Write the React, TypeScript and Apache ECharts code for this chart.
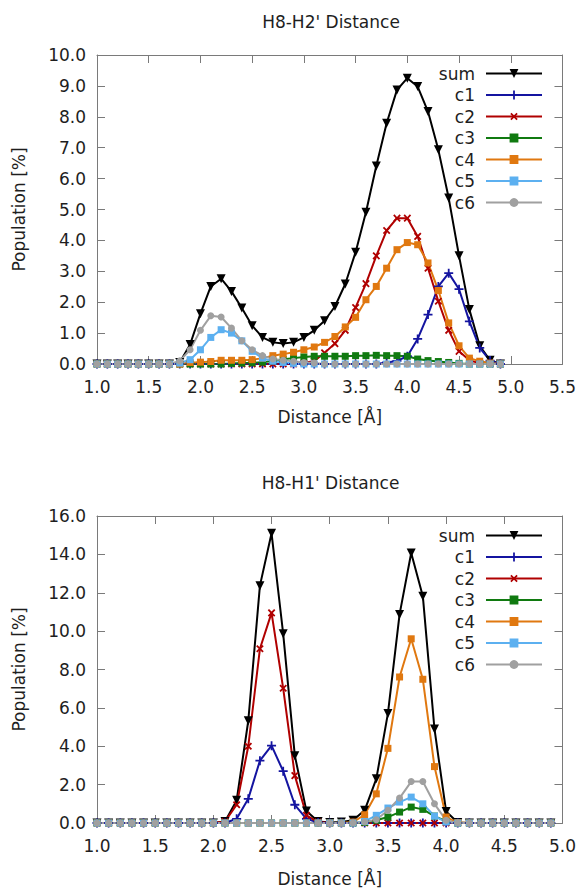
import React, { useEffect, useRef } from "react";
import * as echarts from "echarts";

const distances = [1.0, 1.1, 1.2, 1.3, 1.4, 1.5, 1.6, 1.7, 1.8, 1.9, 2.0, 2.1, 2.2, 2.3, 2.4, 2.5, 2.6, 2.7, 2.8, 2.9, 3.0, 3.1, 3.2, 3.3, 3.4, 3.5, 3.6, 3.7, 3.8, 3.9, 4.0, 4.1, 4.2, 4.3, 4.4, 4.5, 4.6, 4.7, 4.8, 4.9];

const seriesNames = ["sum", "c1", "c2", "c3", "c4", "c5", "c6"];

// H8-H2' distance
const h2Sum = [0, 0, 0, 0, 0, 0, 0, 0, 0.05, 0.63, 1.63, 2.51, 2.76, 2.35, 1.81, 1.24, 0.86, 0.70, 0.66, 0.70, 0.86, 1.09, 1.40, 1.86, 2.59, 3.62, 4.91, 6.41, 7.79, 8.87, 9.25, 8.98, 8.17, 6.93, 5.37, 3.50, 1.76, 0.59, 0.12, 0];
const h2C1 = [0, 0, 0, 0, 0, 0, 0, 0, 0, 0, 0, 0, 0, 0, 0, 0, 0, 0, 0, 0, 0, 0, 0, 0, 0, 0, 0, 0, 0.05, 0.10, 0.25, 0.81, 1.60, 2.51, 2.94, 2.42, 1.38, 0.52, 0.11, 0];
const h2C2 = [0, 0, 0, 0, 0, 0, 0, 0, 0, 0, 0, 0, 0, 0, 0, 0, 0, 0, 0, 0, 0.03, 0.10, 0.36, 0.66, 1.09, 1.83, 2.60, 3.50, 4.32, 4.72, 4.72, 4.13, 3.10, 2.03, 1.09, 0.41, 0.12, 0.02, 0, 0];
const h2C3 = [0, 0, 0, 0, 0, 0, 0, 0, 0, 0, 0, 0, 0, 0.02, 0.03, 0.04, 0.06, 0.10, 0.15, 0.19, 0.23, 0.25, 0.25, 0.25, 0.25, 0.27, 0.27, 0.28, 0.27, 0.27, 0.25, 0.16, 0.11, 0.08, 0.05, 0.02, 0, 0, 0, 0];
const h2C4 = [0, 0, 0, 0, 0, 0, 0, 0, 0, 0.05, 0.06, 0.08, 0.12, 0.12, 0.12, 0.14, 0.19, 0.27, 0.32, 0.38, 0.46, 0.55, 0.70, 0.89, 1.20, 1.51, 2.08, 2.51, 3.10, 3.70, 3.93, 3.86, 3.27, 2.38, 1.33, 0.59, 0.19, 0.09, 0.03, 0];
const h2C5 = [0, 0, 0, 0, 0, 0, 0, 0, 0.03, 0.14, 0.46, 0.86, 1.11, 1.00, 0.75, 0.41, 0.19, 0.09, 0.05, 0.02, 0, 0, 0, 0, 0, 0, 0, 0, 0, 0, 0, 0, 0, 0, 0, 0, 0, 0, 0, 0];
const h2C6 = [0, 0, 0, 0, 0, 0, 0, 0, 0.10, 0.46, 1.09, 1.56, 1.52, 1.16, 0.75, 0.46, 0.27, 0.16, 0.12, 0.09, 0.05, 0.03, 0, 0, 0, 0, 0, 0, 0, 0, 0, 0, 0, 0, 0, 0, 0, 0, 0, 0];

// H8-H1' distance
const h1Sum = [0, 0, 0, 0, 0, 0, 0, 0, 0, 0, 0, 0.08, 1.18, 5.33, 12.37, 15.10, 9.86, 3.51, 0.62, 0.08, 0.02, 0.05, 0.14, 0.66, 2.30, 5.71, 10.87, 14.07, 11.82, 4.90, 0.60, 0.03, 0, 0, 0, 0, 0, 0, 0, 0];
const h1C1 = [0, 0, 0, 0, 0, 0, 0, 0, 0, 0, 0, 0, 0.22, 1.26, 3.25, 4.03, 2.70, 0.95, 0.22, 0.03, 0, 0, 0, 0, 0, 0, 0, 0, 0, 0, 0, 0, 0, 0, 0, 0, 0, 0, 0, 0];
const h1C2 = [0, 0, 0, 0, 0, 0, 0, 0, 0, 0, 0, 0.08, 0.95, 4.00, 9.08, 10.95, 7.02, 2.47, 0.40, 0.05, 0, 0, 0, 0, 0, 0, 0, 0, 0, 0, 0, 0, 0, 0, 0, 0, 0, 0, 0, 0];
const h1C3 = [0, 0, 0, 0, 0, 0, 0, 0, 0, 0, 0, 0, 0, 0, 0, 0, 0, 0, 0, 0, 0, 0, 0, 0.03, 0.14, 0.31, 0.57, 0.83, 0.71, 0.36, 0.09, 0, 0, 0, 0, 0, 0, 0, 0, 0];
const h1C4 = [0, 0, 0, 0, 0, 0, 0, 0, 0, 0, 0, 0, 0, 0, 0, 0, 0, 0, 0, 0, 0, 0, 0.05, 0.43, 1.52, 3.89, 7.61, 9.60, 7.49, 2.94, 0.31, 0.02, 0, 0, 0, 0, 0, 0, 0, 0];
const h1C5 = [0, 0, 0, 0, 0, 0, 0, 0, 0, 0, 0, 0, 0, 0, 0, 0, 0, 0, 0, 0, 0, 0, 0, 0.08, 0.40, 0.78, 1.09, 1.35, 1.00, 0.36, 0.05, 0, 0, 0, 0, 0, 0, 0, 0, 0];
const h1C6 = [0, 0, 0, 0, 0, 0, 0, 0, 0, 0, 0, 0, 0, 0, 0, 0, 0, 0, 0, 0, 0, 0, 0, 0.05, 0.17, 0.66, 1.30, 2.16, 2.16, 1.00, 0.14, 0, 0, 0, 0, 0, 0, 0, 0, 0];

const topValues = [h2Sum, h2C1, h2C2, h2C3, h2C4, h2C5, h2C6];
const bottomValues = [h1Sum, h1C1, h1C2, h1C3, h1C4, h1C5, h1C6];

const titles = ["H8-H2' Distance", "H8-H1' Distance"];
const xAxisName = "Distance [Å]";
const yAxisName = "Population [%]";

const FONT = "DejaVu Sans";
const TEXT = "#1e1e1e";
const BORDER = "#7a7a7a";

const PLUS = "path://M4,0H6V4H10V6H6V10H4V6H0V4H4Z";

const styles = [
  { color: "#000000", symbol: "triangle", size: 9, rotate: 180 },
  { color: "#1414a0", symbol: PLUS, size: 9, rotate: 0 },
  { color: "#b00000", symbol: PLUS, size: 9, rotate: 45 },
  { color: "#107a10", symbol: "rect", size: 7, rotate: 0 },
  { color: "#e07810", symbol: "rect", size: 7, rotate: 0 },
  { color: "#5cb0f0", symbol: "rect", size: 7, rotate: 0 },
  { color: "#a0a0a0", symbol: "circle", size: 7, rotate: 0 },
];

const grids = [
  { left: 97, top: 55, width: 468, height: 309, xMax: 5.5, yMax: 10, yInterval: 1, nameGap: 44 },
  { left: 97, top: 516, width: 467, height: 308, xMax: 5.0, yMax: 16, yInterval: 2, nameGap: 47 },
];

export default function App() {
  const ref = useRef<HTMLDivElement>(null);

  useEffect(() => {
    if (!ref.current) return;
    const chart = echarts.init(ref.current, undefined, { renderer: "svg" });

    const labelStyle = { color: TEXT, fontFamily: FONT, fontSize: 17 };
    const tick = { show: true, inside: true, length: 8, lineStyle: { color: BORDER, width: 1 } };
    const line = { show: true, onZero: false, lineStyle: { color: BORDER, width: 1 } };

    const xAxes: any[] = [];
    const yAxes: any[] = [];
    grids.forEach((g, i) => {
      xAxes.push({
        type: "value", gridIndex: i, position: "bottom", min: 1, max: g.xMax, interval: 0.5,
        axisLine: line, axisTick: tick, splitLine: { show: false },
        axisLabel: { ...labelStyle, margin: 14, formatter: (v: number) => v.toFixed(1) },
        name: xAxisName, nameLocation: "middle", nameGap: g.nameGap,
        nameTextStyle: { ...labelStyle },
      });
      xAxes.push({
        type: "value", gridIndex: i, position: "top", min: 1, max: g.xMax, interval: 0.5,
        axisLine: line, axisTick: tick, splitLine: { show: false }, axisLabel: { show: false },
      });
      yAxes.push({
        type: "value", gridIndex: i, position: "left", min: 0, max: g.yMax, interval: g.yInterval,
        axisLine: line, axisTick: tick, splitLine: { show: false },
        axisLabel: { ...labelStyle, margin: 11, formatter: (v: number) => v.toFixed(1) },
        name: yAxisName, nameLocation: "middle", nameGap: 70,
        nameTextStyle: { ...labelStyle },
      });
      yAxes.push({
        type: "value", gridIndex: i, position: "right", min: 0, max: g.yMax, interval: g.yInterval,
        axisLine: line, axisTick: tick, splitLine: { show: false }, axisLabel: { show: false },
      });
    });

    const series: any[] = [];
    [topValues, bottomValues].forEach((vals, gi) => {
      vals.forEach((arr, si) => {
        const st = styles[si];
        series.push({
          name: seriesNames[si],
          type: "line",
          xAxisIndex: gi * 2,
          yAxisIndex: gi * 2,
          data: distances.map((d, k) => [d, arr[k]]),
          symbol: st.symbol,
          symbolSize: st.size,
          symbolRotate: st.rotate,
          showSymbol: true,
          clip: false,
          lineStyle: { color: st.color, width: 2 },
          itemStyle: { color: st.color },
          emphasis: { disabled: true },
        });
      });
    });

    const legendCommon = {
      orient: "vertical",
      align: "right",
      right: 36,
      padding: 0,
      itemWidth: 56,
      itemHeight: 11,
      itemGap: 4.5,
      selectedMode: false,
      data: seriesNames,
      textStyle: { color: TEXT, fontFamily: FONT, fontSize: 17, lineHeight: 17, padding: [0, 6, 0, 0] },
    };

    chart.setOption({
      animation: false,
      backgroundColor: "#ffffff",
      title: titles.map((t, i) => ({
        text: t,
        left: grids[i].left + grids[i].width / 2,
        textAlign: "center",
        top: i === 0 ? 13 : 474,
        padding: 0,
        textStyle: { color: TEXT, fontFamily: FONT, fontSize: 17, fontWeight: "normal" },
      })),
      legend: [
        { ...legendCommon, top: 65 },
        { ...legendCommon, top: 527 },
      ],
      grid: grids.map((g) => ({ left: g.left, top: g.top, width: g.width, height: g.height, containLabel: false })),
      xAxis: xAxes,
      yAxis: yAxes,
      series,
    });

    return () => chart.dispose();
  }, []);

  return <div ref={ref} style={{ position: "absolute", left: 0, top: 0, width: 579, height: 888 }} />;
}
